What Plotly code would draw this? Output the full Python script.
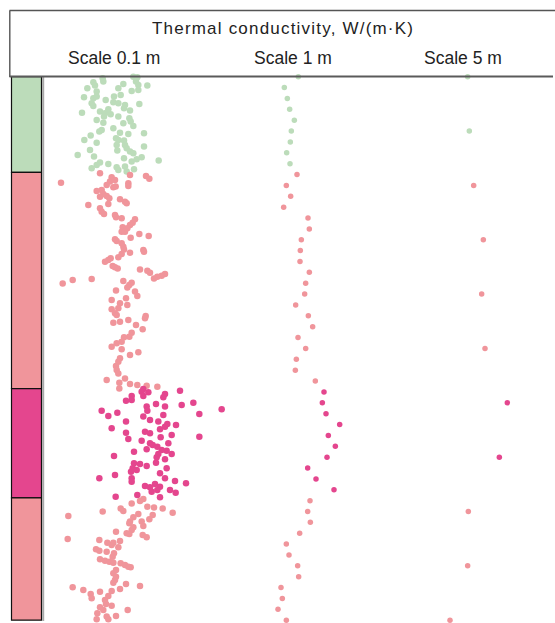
import plotly.graph_objects as go

W, H = 555, 623

# ---------------- data ----------------
title = "Thermal conductivity, W/(m·K)"
scale_labels = ["Scale 0.1 m", "Scale 1 m", "Scale 5 m"]

# layer column (depth in m): tops / bottoms and colours
layer_top = [0.0, 8.8, 28.7, 38.75]
layer_bot = [8.8, 28.7, 38.75, 50.0]
layer_col = ["#bcdcba", "#f0959b", "#e4468e", "#f0959b"]

# Scale 0.1 m  (depth, conductivity)
d01_green = [0.15, 0.45, 0.0, 0.05, 0.45, 0.76, 0.82, 0.51, 0.82, 1.07, 1.37, 1.07, 0.67, 1.31, 1.22,
             1.68, 1.83, 1.89, 1.99, 1.83, 2.14, 2.45, 2.69, 2.36, 2.45, 2.60, 2.91, 3.12, 2.51, 3.31,
             3.21, 3.37, 3.46, 3.00, 3.67, 3.98, 3.67, 3.83, 4.13, 4.23, 4.29, 4.53, 4.75, 4.90, 5.05,
             5.15, 5.27, 5.21, 5.42, 5.82, 5.67, 5.82, 5.88, 6.07, 6.28, 6.28, 6.59, 6.43, 6.74, 6.80,
             6.89, 7.05, 7.20, 7.35, 7.51, 7.60, 7.41, 7.81, 7.72, 7.90, 8.12, 8.03, 8.43, 8.33, 8.27,
             8.58, 8.52, 8.73]
k01_green = [2.58, 2.60, 3.50, 3.62, 3.58, 3.65, 3.92, 2.30, 2.35, 2.12, 2.40, 3.05, 3.20, 3.45, 3.65,
             3.12, 2.92, 2.02, 2.30, 2.40, 2.67, 2.25, 2.30, 2.90, 3.05, 3.25, 3.22, 3.40, 3.68, 1.96,
             2.50, 2.65, 2.82, 2.75, 2.62, 2.40, 3.05, 3.38, 3.42, 2.60, 3.20, 3.50, 2.90, 2.55, 2.48,
             3.10, 3.35, 3.82, 2.22, 2.03, 2.98, 3.05, 3.22, 2.40, 3.00, 3.25, 3.30, 3.82, 2.20, 3.02,
             3.40, 3.50, 1.83, 2.32, 3.22, 3.60, 3.75, 3.45, 4.26, 2.50, 2.40, 2.75, 2.25, 3.00, 3.25,
             3.05, 3.52, 3.30]

d01_upper = [8.89, 9.25, 9.04, 9.13, 9.38,
             9.75, 9.65, 9.50, 9.81, 10.05, 9.96, 10.18, 10.11, 10.51, 10.42,
             10.79, 11.04, 10.97, 11.19, 11.80, 11.71, 11.28, 11.50, 11.65, 12.11,
             12.42, 12.63, 12.72, 12.94, 13.03, 13.12, 13.43, 13.64, 13.95, 13.86,
             14.26, 14.26, 14.47, 14.66, 14.81, 14.96, 15.12, 15.33, 15.64, 15.89,
             16.19, 15.95, 16.10, 16.31, 16.62, 16.71, 16.87, 17.02, 17.42, 17.54,
             17.64, 17.73, 17.85, 18.03, 18.16, 18.31, 18.40, 18.56, 19.02, 18.71,
             18.62, 18.80, 18.96, 19.17, 19.39,
             19.68, 19.77, 20.17, 20.54, 20.39, 20.85, 21.00, 21.31, 21.40, 21.77,
             21.92, 22.01, 22.23, 22.63, 22.54, 22.38, 22.84, 23.24, 23.55, 23.92,
             23.98, 24.38, 24.53, 24.84, 25.08, 25.61, 25.36, 25.91, 26.22, 26.62,
             26.99, 27.30, 27.91, 27.76, 28.15, 28.27, 28.37, 28.43, 28.68, 28.52]
k01_upper = [2.50, 2.85, 3.40, 3.88, 3.98,
             1.33, 2.80, 2.95, 3.35, 3.35, 2.70, 2.90, 2.97, 2.40, 2.55,
             2.60, 2.50, 2.70, 2.78, 2.15, 2.75, 3.10, 3.25, 3.30, 2.50,
             2.55, 2.62, 2.95, 2.98, 3.15, 3.55, 3.48, 3.40, 3.32, 3.18,
             3.15, 3.25, 3.68, 3.96, 3.42, 2.95, 3.00, 3.15, 3.20, 3.22,
             3.40, 3.80, 3.82, 3.15, 3.05, 2.82, 2.75, 2.65, 2.88, 2.95,
             3.03, 3.70, 3.92, 4.00, 4.45, 4.35, 4.22, 4.12, 1.38, 1.68,
             2.25, 3.20, 3.45, 3.38, 3.32,
             2.98, 3.55, 3.62, 2.85, 3.28, 3.10, 3.32, 3.05, 2.85, 2.95,
             3.00, 3.87, 3.85, 2.90, 3.10, 3.35, 3.58, 3.78, 3.45, 3.38,
             3.22, 3.15, 3.00, 2.85, 3.15, 3.40, 3.65, 3.10, 3.05, 2.98,
             3.00, 3.05, 2.70, 3.25, 3.08, 3.40, 3.62, 3.90, 3.08, 4.22]

d01_mid = [28.74, 28.98, 29.04, 29.38, 29.38, 29.20, 29.50, 28.89,
           29.80, 29.74, 30.35, 30.72, 30.11, 30.35, 30.20, 29.99, 30.60,
           30.72, 31.21, 30.91, 31.27, 31.58, 31.12, 31.73, 31.95, 32.04, 31.03,
           32.35, 31.73, 32.44, 32.20, 32.66, 32.81, 32.75, 33.18, 32.96, 33.12,
           33.33, 33.49, 33.73, 34.04, 33.73, 33.89, 34.28, 34.35, 34.41, 34.71,
           34.50, 34.90, 34.71, 35.02, 35.20, 35.51, 35.57, 35.63, 35.82, 36.03,
           36.34, 36.19, 36.49, 36.03, 36.95, 36.95, 37.26, 36.65, 36.95, 37.20,
           37.41, 37.66, 37.78, 37.48, 37.72, 38.03, 38.03, 38.27, 38.18, 38.49,
           38.70, 38.64]
k01_mid = [3.80, 3.75, 3.95, 3.80, 3.45, 4.45, 4.40, 4.90,
           3.28, 3.45, 3.90, 3.92, 4.18, 4.45, 4.95, 5.30, 6.15,
           2.55, 2.75, 3.02, 3.80, 4.00, 4.40, 4.25, 4.52, 4.78, 5.48,
           2.85, 3.28, 4.30, 4.45, 3.85, 4.00, 3.28, 4.32, 4.65, 5.48,
           3.35, 3.75, 4.00, 4.22, 4.55, 4.08, 3.90, 4.35, 4.50, 4.65,
           3.52, 2.92, 4.25, 4.20, 4.45, 4.18, 3.52, 3.70, 3.90, 3.48,
           3.43, 3.60, 4.30, 4.50, 4.45, 3.45, 3.45, 2.95, 2.48, 4.75,
           5.08, 3.85, 4.00, 4.15, 4.30, 4.22, 4.60, 4.77, 4.05, 3.62,
           4.30, 2.97]

d01_lower = [38.86, 39.04, 39.26, 39.72, 39.57, 39.63, 39.72,
             40.41, 40.01, 39.95, 40.23, 40.54, 40.32, 40.72, 40.11, 40.93, 41.09,
             40.93, 41.33, 41.46, 41.70, 41.86, 42.01, 42.07, 42.16, 42.38, 42.53,
             42.62, 42.87, 43.08, 42.87, 42.71, 43.30, 43.48, 43.60, 43.70, 43.85,
             44.16, 44.40, 44.53, 44.62, 44.71, 44.77, 44.92, 45.14, 45.08, 45.38,
             45.69, 46.00, 46.30, 46.55, 46.67, 46.86, 46.98, 47.22, 47.59, 47.99,
             47.38, 47.31, 47.13, 47.78, 48.14, 48.51, 48.66, 48.82, 49.06, 49.37,
             49.06, 49.92, 49.67, 49.92, 49.61]
k01_lower = [3.80, 3.70, 3.45, 3.12, 3.92, 4.12, 4.38,
             1.55, 2.58, 3.20, 3.65, 3.50, 4.08, 3.98, 4.68, 3.40, 3.38,
             3.75, 3.80, 3.50, 3.45, 2.98, 3.30, 3.38, 3.78, 3.90, 1.53,
             2.48, 2.72, 2.85, 2.90, 3.10, 3.05, 2.38, 2.48, 2.70, 2.92,
             2.88, 2.50, 2.65, 2.78, 2.90, 3.12, 3.25, 3.42, 3.35, 2.98,
             2.90, 2.98, 2.95, 2.90, 3.28, 3.70, 1.68, 2.00, 2.22, 2.25,
             2.50, 2.85, 3.10, 2.75, 2.65, 2.68, 2.85, 2.50, 2.60, 2.42,
             3.33, 2.40, 2.70, 2.75, 2.98]

# Scale 1 m
d1 = list(range(0, 51))
k1 = [3.35, 2.93, 3.02, 3.09, 3.23, 3.14, 3.11, 3.00, 3.10, 3.31,
      2.99, 3.12, 2.91, 3.64, 3.68, 3.44, 3.41, 3.40, 3.68, 3.57,
      3.54, 3.27, 3.65, 3.78, 3.34, 3.57, 3.29, 3.26, 3.86, 4.12,
      4.07, 4.18, 4.59, 4.25, 4.46, 4.21, 3.63, 3.88, 4.42, 3.70,
      3.63, 3.71, 3.39, 2.99, 3.07, 3.33, 3.36, 2.83, 2.87, 2.74,
      2.99]

# Scale 5 m
d5 = [0, 5, 10, 15, 20, 25, 30, 35, 40, 45, 50]
k5 = [3.33, 3.38, 3.51, 3.80, 3.75, 3.85, 4.52, 4.28, 3.35, 3.33, 2.80]

for a, b in [(d01_green, k01_green), (d01_upper, k01_upper), (d01_mid, k01_mid), (d01_lower, k01_lower)]:
    assert len(a) == len(b)

d01 = d01_green + d01_upper + d01_mid + d01_lower
k01 = k01_green + k01_upper + k01_mid + k01_lower


def layer_colour(d):
    for t, b, c in zip(layer_top, layer_bot, layer_col):
        if t <= d < b:
            return c
    return layer_col[-1]


# ---------------- layout geometry ----------------
px_per_m = 10.87
y_top_px = 76.0
depth0_px = 76.7
plot_h = H - y_top_px
y_range = [(H - depth0_px) / px_per_m, (y_top_px - depth0_px) / px_per_m]
k_min, k_per_px = 0.76, 0.03
col_left = [42, 212, 382]
col_width = [200, 170, 170]

fig = go.Figure()
fig.add_trace(go.Scatter(x=k01, y=d01, mode="markers", xaxis="x", yaxis="y",
                         marker=dict(size=6.5, color=[layer_colour(d) for d in d01], line=dict(width=0)),
                         cliponaxis=False, hoverinfo="x+y"))
fig.add_trace(go.Scatter(x=k1, y=d1, mode="markers", xaxis="x2", yaxis="y",
                         marker=dict(size=5.5, color=[layer_colour(d) for d in d1], line=dict(width=0)),
                         cliponaxis=False))
fig.add_trace(go.Scatter(x=k5, y=d5, mode="markers", xaxis="x3", yaxis="y",
                         marker=dict(size=5.5, color=[layer_colour(d) for d in d5], line=dict(width=0)),
                         cliponaxis=False))

layout = dict(
    width=W, height=H, autosize=False,
    margin=dict(l=0, r=0, t=0, b=0, pad=0),
    paper_bgcolor="white", plot_bgcolor="rgba(0,0,0,0)",
    showlegend=False,
    yaxis=dict(domain=[0, plot_h / H], range=y_range, visible=False, showgrid=False,
               zeroline=False, anchor="x"),
)
for i, (a, w) in enumerate(zip(col_left, col_width)):
    key = "xaxis" if i == 0 else f"xaxis{i + 1}"
    layout[key] = dict(domain=[a / W, (a + w) / W], anchor="y",
                       range=[k_min, k_min + w * k_per_px],
                       visible=False, showgrid=False, zeroline=False, fixedrange=True)
fig.update_layout(**layout)

shapes = []
# strip
for t, b, c in zip(layer_top, layer_bot, layer_col):
    shapes.append(dict(type="rect", xref="paper", yref="y", x0=11.5 / W, x1=41.5 / W, y0=t, y1=b,
                       fillcolor=c, line=dict(color="#111111", width=1.2), layer="below"))
shapes.append(dict(type="line", xref="paper", yref="paper", x0=43.2 / W, x1=43.2 / W,
                   y0=1 - 77 / H, y1=1 - 621 / H, line=dict(color="#a8a8a8", width=2)))
# frame of header
shapes.append(dict(type="line", xref="paper", yref="paper", x0=9.5 / W, x1=1.0,
                   y0=1 - 10.5 / H, y1=1 - 10.5 / H, line=dict(color="#555555", width=1.4)))
shapes.append(dict(type="line", xref="paper", yref="paper", x0=9.8 / W, x1=9.8 / W,
                   y0=1 - 10.5 / H, y1=1 - 77 / H, line=dict(color="#555555", width=1.4)))
shapes.append(dict(type="line", xref="paper", yref="paper", x0=9.5 / W, x1=553 / W,
                   y0=1 - 76.5 / H, y1=1 - 76.5 / H, line=dict(color="#5a5a5a", width=1.8), layer="above"))
fig.update_layout(shapes=shapes)

font_family = "Liberation Sans, Arial, sans-serif"
ann = [dict(text='<span style="letter-spacing:1.2px">' + title + '</span>',
            x=283 / W, y=1 - 28 / H, xref="paper", yref="paper", showarrow=False,
            xanchor="center", yanchor="middle", font=dict(family=font_family, size=17, color="#222222"))]
for lab, cx in zip(scale_labels, [114, 293, 463]):
    ann.append(dict(text=lab, x=cx / W, y=1 - 58 / H, xref="paper", yref="paper", showarrow=False,
                    xanchor="center", yanchor="middle", font=dict(family=font_family, size=17.5, color="#222222")))
fig.update_layout(annotations=ann)

fig.write_html("out.html", config={"displayModeBar": False})
